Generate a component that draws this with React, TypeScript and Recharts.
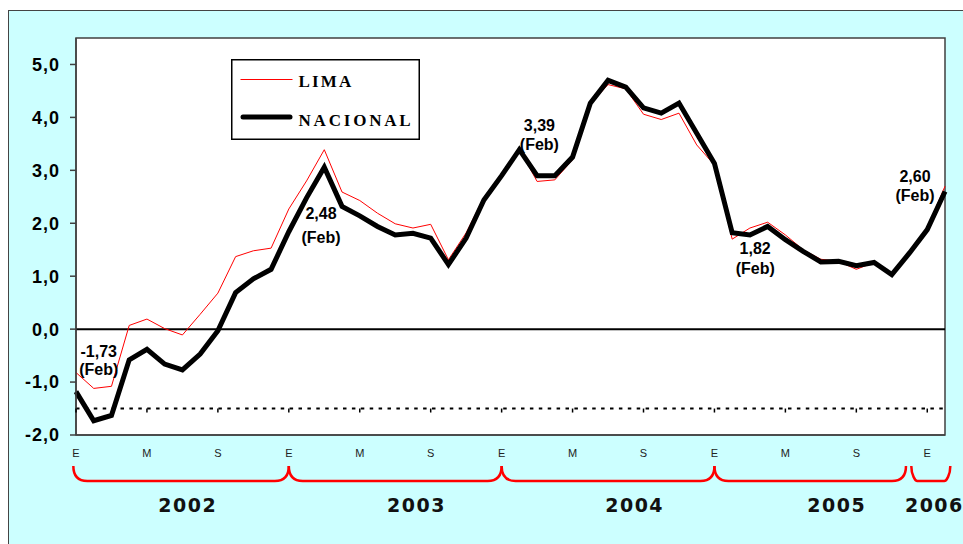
import React from 'react';
import { LineChart, Line, XAxis, YAxis, ReferenceLine, ReferenceArea, Legend, LabelList } from 'recharts';

// ---- categories ----
const years = ['2002', '2003', '2004', '2005', '2006'];
const monthInitials = ['E', 'F', 'M', 'A', 'M', 'J', 'J', 'A', 'S', 'O', 'N', 'D'];
const periods: string[] = [];
years.forEach((y, yi) =>
  monthInitials.forEach((m, mi) => {
    if (yi < 4 || mi < 2) periods.push(`${m}-${y}`);
  })
);

// ---- series values (%), Jan 2002 .. Feb 2006 ----
const lima = [
  -0.82, -1.12, -1.08, 0.07, 0.19, 0.01, -0.11, 0.28, 0.68, 1.37, 1.48, 1.53,
  2.27, 2.8, 3.39, 2.59, 2.43, 2.19, 1.99, 1.91, 1.98, 1.31, 1.82, 2.49,
  2.9, 3.4, 2.79, 2.82, 3.2, 4.25, 4.62, 4.54, 4.06, 3.96, 4.08, 3.48,
  3.1, 1.7, 1.91, 2.02, 1.78, 1.5, 1.32, 1.28, 1.13, 1.26, 1.03, 1.47,
  1.91, 2.7,
];
const nacional = [
  -1.18, -1.73, -1.63, -0.58, -0.38, -0.66, -0.77, -0.47, -0.03, 0.69, 0.95, 1.13,
  1.84, 2.48, 3.06, 2.32, 2.14, 1.94, 1.78, 1.81, 1.72, 1.22, 1.72, 2.44,
  2.9, 3.39, 2.9, 2.9, 3.25, 4.27, 4.7, 4.57, 4.18, 4.08, 4.27, 3.7,
  3.13, 1.82, 1.78, 1.94, 1.69, 1.47, 1.27, 1.28, 1.2, 1.26, 1.03, 1.44,
  1.88, 2.6,
];

// ---- tick values ----
const yTicks = [-2, -1, 0, 1, 2, 3, 4, 5];
const xTicks = [0, 4, 8, 12, 16, 20, 24, 28, 32, 36, 40, 44, 48];

// annotated points (February of each year)
const annotations = [
  { index: 1, dx: 5, dyValue: -70, dyFeb: -52 },
  { index: 13, dx: 14.5, dyValue: 15, dyFeb: 39 },
  { index: 25, dx: 20, dyValue: -25, dyFeb: -6 },
  { index: 37, dx: 23, dyValue: 15, dyFeb: 35 },
  { index: 49, dx: -30, dyValue: -15.5, dyFeb: 3.5 },
];

// year braces, in month-index units
const yearSpans = [
  { year: '2002', tick: 0, from: -0.15, to: 12, at: 6.3, r: 14 },
  { year: '2003', tick: 12, from: 12, to: 24, at: 19.2, r: 14 },
  { year: '2004', tick: 24, from: 24, to: 36, at: 31.5, r: 14 },
  { year: '2005', tick: 36, from: 36, to: 46.8, at: 42.9, r: 14 },
  { year: '2006', tick: 48, from: 47.1, to: 49.3, at: 48.4, r: 6 },
];

const data = periods.map((p, i) => ({ i, period: p, lima: lima[i], nacional: nacional[i] }));

// ---- layout ----
const W = 963;
const H = 544;
const M_TOP = 38;
const M_RIGHT = 18;
const M_BOTTOM = 9;
const Y_AXIS_W = 76;
const X_AXIS_H = 100;
const PLOT_W = W - Y_AXIS_W - M_RIGHT;
const PLOT_H = H - M_TOP - M_BOTTOM - X_AXIS_H;
const PLOT_BOTTOM = M_TOP + PLOT_H;
const STEP = PLOT_W / (data.length - 1);
const Y_MIN = -2;
const Y_MAX = 5.5;
const yPix = (v: number) => M_TOP + ((Y_MAX - v) / (Y_MAX - Y_MIN)) * PLOT_H;
const DASH_LEVEL = -1.5;

const ARIAL = '"Liberation Sans", Arial, sans-serif';
const comma = (v: number, d: number) => v.toFixed(d).replace('.', ',');

const XTick = (props: any) => {
  const { x, payload } = props;
  const idx = Number(payload.value);
  const label = monthInitials[idx % 12];
  const span = yearSpans.find((s) => s.tick === idx);
  const px = (v: number) => x + (v - idx) * STEP;
  const top = PLOT_BOTTOM + 31;
  const bot = PLOT_BOTTOM + 46;
  let brace: React.ReactNode = null;
  if (span) {
    const a = px(span.from);
    const b = px(span.to);
    const r = span.r;
    const d = `M ${a} ${top} C ${a} ${bot - 6} ${a + 4} ${bot} ${a + r} ${bot} L ${b - r} ${bot} C ${b - 4} ${bot} ${b} ${bot - 6} ${b} ${top}`;
    brace = (
      <g>
        <path d={d} fill="none" stroke="#ff0000" strokeWidth={2.5} />
        <text
          x={px(span.at)}
          y={PLOT_BOTTOM + 77}
          textAnchor="middle"
          fontFamily='"DejaVu Sans", Verdana, sans-serif'
          fontWeight="bold"
          fontSize={19}
          letterSpacing={1.5}
          fill="#111"
        >
          {span.year}
        </text>
      </g>
    );
  }
  return (
    <g>
      <line x1={x} x2={x} y1={yPix(DASH_LEVEL)} y2={yPix(DASH_LEVEL) + 4} stroke="#000" strokeWidth={1.5} />
      <text x={x} y={PLOT_BOTTOM + 22} textAnchor="middle" fontFamily={ARIAL} fontSize={11} fill="#222">
        {label}
      </text>
      {brace}
    </g>
  );
};

const AnnotationLabel = (props: any) => {
  const index = props.index;
  const ann = annotations.find((a) => a.index === index);
  if (!ann) return null;
  const x = props.x ?? props.viewBox?.x;
  const y = props.y ?? props.viewBox?.y;
  const v = nacional[index];
  return (
    <g>
      <text x={x + ann.dx} y={y + ann.dyValue + 6} textAnchor="middle" fontFamily={ARIAL} fontWeight="bold" fontSize={16} fill="#000">
        {comma(v, 2)}
      </text>
      <text x={x + ann.dx} y={y + ann.dyFeb + 6} textAnchor="middle" fontFamily={ARIAL} fontWeight="bold" fontSize={16} fill="#000">
        (Feb)
      </text>
    </g>
  );
};

const LegendBox = (props: any) => {
  const payload = props.payload || [];
  const names = payload.length >= 2 ? payload.map((p: any) => p.value) : ['LIMA', 'NACIONAL'];
  const serif = '"Liberation Serif", "Times New Roman", serif';
  return (
    <svg width={190} height={81} style={{ display: 'block' }}>
      <rect x={0.75} y={0.75} width={187.5} height={79.5} fill="#fff" stroke="#000" strokeWidth={1.5} />
      <line x1={9.5} x2={61.5} y1={20.5} y2={20.5} stroke="#ff0000" strokeWidth={1} />
      <text x={67.5} y={27.5} fontFamily={serif} fontWeight="bold" fontSize={17} letterSpacing={2.2} fill="#000">
        {names[0]}
      </text>
      <line x1={12} x2={59} y1={58} y2={58} stroke="#000" strokeWidth={5} strokeLinecap="round" />
      <text x={67.5} y={66.5} fontFamily={serif} fontWeight="bold" fontSize={17} letterSpacing={2.8} fill="#000">
        {names[1]}
      </text>
    </svg>
  );
};

export default function App() {
  return (
    <div style={{ position: 'relative', width: W, height: H, background: '#fff', overflow: 'hidden' }}>
      <style>{'body{margin:0;overflow:hidden}'}</style>
      <div
        style={{
          position: 'absolute',
          left: 8,
          top: 10,
          right: 0,
          bottom: 0,
          background: '#ccffff',
          borderLeft: '1px solid #444',
          borderTop: '1px solid #444',
        }}
      />
      <div style={{ position: 'absolute', left: 0, top: 0 }}>
        <LineChart
          width={W}
          height={H}
          data={data}
          margin={{ top: M_TOP, right: M_RIGHT, bottom: M_BOTTOM, left: 0 }}
        >
          <ReferenceArea
            x1={0}
            x2={data.length - 1}
            y1={Y_MIN}
            y2={Y_MAX}
            fill="#ffffff"
            fillOpacity={1}
            stroke="none"
            ifOverflow="visible"
          />
          <XAxis
            dataKey="i"
            type="number"
            domain={[0, data.length - 1]}
            ticks={xTicks}
            interval={0}
            tick={<XTick />}
            tickLine={false}
            axisLine={{ stroke: '#404040', strokeWidth: 1.5 }}
            height={X_AXIS_H}
            allowDecimals={false}
          />
          <YAxis
            type="number"
            domain={[Y_MIN, Y_MAX]}
            ticks={yTicks}
            interval={0}
            width={Y_AXIS_W}
            tickFormatter={(v: number) => comma(v, 1)}
            tick={{ fontFamily: ARIAL, fontWeight: 'bold', fontSize: 18, fill: '#000', letterSpacing: 1 }}
            tickSize={6}
            tickMargin={10}
            tickLine={{ stroke: '#404040', strokeWidth: 1.5 }}
            axisLine={{ stroke: '#404040', strokeWidth: 1.5 }}
            allowDataOverflow
          />
          <ReferenceLine y={0} stroke="#000" strokeWidth={2} />
          <ReferenceLine y={DASH_LEVEL} stroke="#000" strokeWidth={2} strokeDasharray="3.5 5.4" />
          <Legend
            layout="vertical"
            align="center"
            verticalAlign="middle"
            wrapperStyle={{ left: 231, top: 59, width: 190, height: 81 }}
            content={(p: any) => <LegendBox {...p} />}
          />
          <Line
            name="LIMA"
            dataKey="lima"
            stroke="#ff0000"
            strokeWidth={1}
            dot={false}
            activeDot={false}
            isAnimationActive={false}
          />
          <Line
            name="NACIONAL"
            dataKey="nacional"
            stroke="#000"
            strokeWidth={5}
            dot={false}
            activeDot={false}
            isAnimationActive={false}
          >
            <LabelList dataKey="nacional" content={<AnnotationLabel />} />
          </Line>
          <ReferenceArea
            x1={0}
            x2={data.length - 1}
            y1={Y_MIN}
            y2={Y_MAX}
            fill="none"
            stroke="#404040"
            strokeWidth={1.5}
            ifOverflow="visible"
          />
        </LineChart>
      </div>
    </div>
  );
}
